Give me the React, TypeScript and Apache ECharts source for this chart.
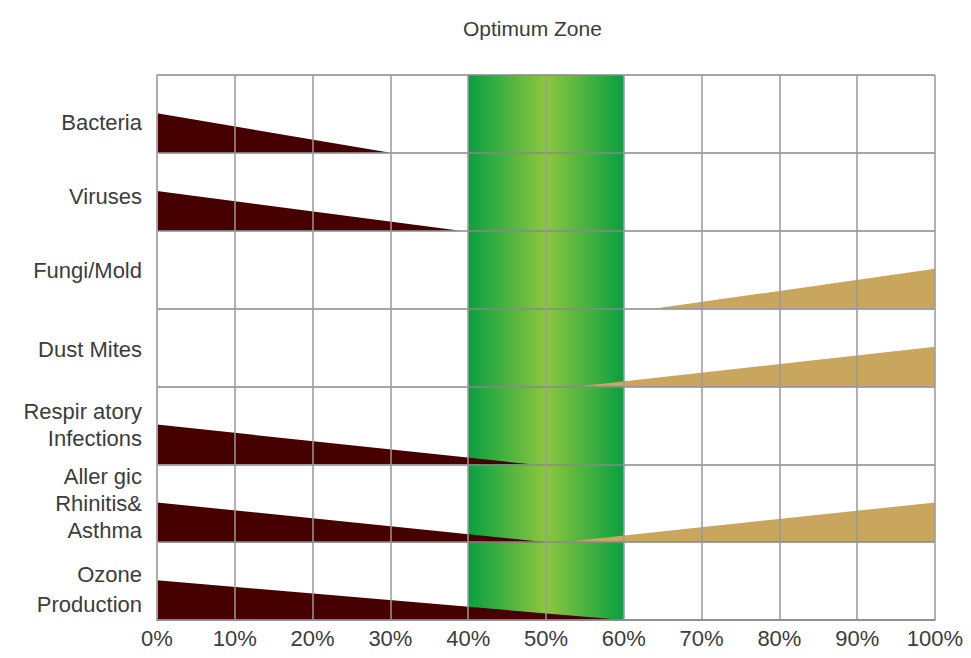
import React, { useEffect, useRef } from "react";
import * as echarts from "echarts";

const categories = [
  "Bacteria",
  "Viruses",
  "Fungi/Mold",
  "Dust Mites",
  "Respir atory\nInfections",
  "Aller gic\nRhinitis&\nAsthma",
  "Ozone\nProduction",
];

// [category index, x where wedge is tallest, x where wedge reaches zero]
const lowHumidityRisk = [
  [0, 0, 30],
  [1, 0, 39],
  [4, 0, 48],
  [5, 0, 50],
  [6, 0, 60],
];
const highHumidityRisk = [
  [2, 100, 64],
  [3, 100, 54],
  [5, 100, 52],
];
const optimumZone = [[40, 60]];
const xTicks = [0, 10, 20, 30, 40, 50, 60, 70, 80, 90, 100];

const FONT = "Liberation Sans";
const TEXT_COLOR = "#3c3c3c";
// vertical nudges of the category labels (style only)
const labelNudge = [18, 10, 2, 4, 0, 0, 16];
const LINE_H = [27, 27, 27, 27, 27, 27, 30];

function wedgeRender(color: string) {
  return (params: any, api: any) => {
    const cat = api.value(0);
    const xTall = api.value(1);
    const xZero = api.value(2);
    const h = api.size([0, 1])[1];
    const pTall = api.coord([xTall, cat]);
    const pZero = api.coord([xZero, cat]);
    const bottom = pTall[1] + h / 2;
    const top = bottom - h * 0.51;
    return {
      type: "polygon",
      shape: {
        points: [
          [pTall[0], bottom],
          [pTall[0], top],
          [pZero[0], bottom],
        ],
      },
      style: { fill: color },
    };
  };
}

const rich: Record<string, any> = {};
labelNudge.forEach((n, i) => {
  rich["c" + i] = {
    fontFamily: FONT,
    fontSize: 22,
    lineHeight: LINE_H[i],
    color: TEXT_COLOR,
    align: "right",
    padding: [n, 0, 0, 0],
  };
});

export default function App() {
  const ref = useRef<HTMLDivElement>(null);
  useEffect(() => {
    document.body.style.margin = "0";
    const chart = echarts.init(ref.current!, null, { renderer: "svg" });
    chart.setOption({
      animation: false,
      backgroundColor: "#ffffff",
      title: {
        text: "Optimum Zone",
        left: 458,
        top: 13,
        textStyle: { fontFamily: FONT, fontWeight: "normal", fontSize: 21, color: TEXT_COLOR },
      },
      grid: { left: 157, right: 36, top: 75, bottom: 38, containLabel: false },
      xAxis: {
        type: "value",
        min: 0,
        max: 100,
        interval: 10,
        z: 10,
        axisLine: { show: true, lineStyle: { color: "#8a8a8a", width: 1.5 } },
        axisTick: { show: false },
        axisLabel: {
          formatter: (v: number) => (xTicks.includes(v) ? v + "%" : ""),
          fontFamily: FONT,
          fontSize: 22,
          color: TEXT_COLOR,
          margin: 7,
        },
        splitLine: { show: true, lineStyle: { color: "#999", width: 1.5 } },
      },
      yAxis: {
        type: "category",
        data: categories,
        inverse: true,
        z: 10,
        axisLine: { show: true, lineStyle: { color: "#aaa", width: 1.5 } },
        axisTick: { show: false },
        axisLabel: {
          formatter: (v: string, i: number) =>
            v
              .split("\n")
              .map((line) => "{c" + i + "|" + line + "}")
              .join("\n"),
          rich,
          fontFamily: FONT,
          fontSize: 22,
          color: TEXT_COLOR,
          margin: 15,
          align: "right",
        },
        splitLine: { show: true, lineStyle: { color: "#888", width: 1.5 } },
      },
      series: [
        {
          type: "custom",
          z: 1,
          data: optimumZone,
          renderItem: (params: any, api: any) => {
            const x0 = api.coord([api.value(0), 0])[0];
            const x1 = api.coord([api.value(1), 0])[0];
            const cs = params.coordSys;
            return {
              type: "rect",
              shape: { x: x0, y: cs.y, width: x1 - x0, height: cs.height },
              style: {
                fill: new echarts.graphic.LinearGradient(0, 0, 1, 0, [
                  { offset: 0, color: "#08a040" },
                  { offset: 0.5, color: "#8dc63f" },
                  { offset: 1, color: "#08a040" },
                ]),
              },
            };
          },
        },
        {
          type: "custom",
          z: 2,
          data: lowHumidityRisk,
          renderItem: wedgeRender("#470000"),
        },
        {
          type: "custom",
          z: 2,
          data: highHumidityRisk,
          renderItem: wedgeRender("#c8a65e"),
        },
      ],
    });
    return () => chart.dispose();
  }, []);
  return <div ref={ref} style={{ width: 971, height: 658 }} />;
}
